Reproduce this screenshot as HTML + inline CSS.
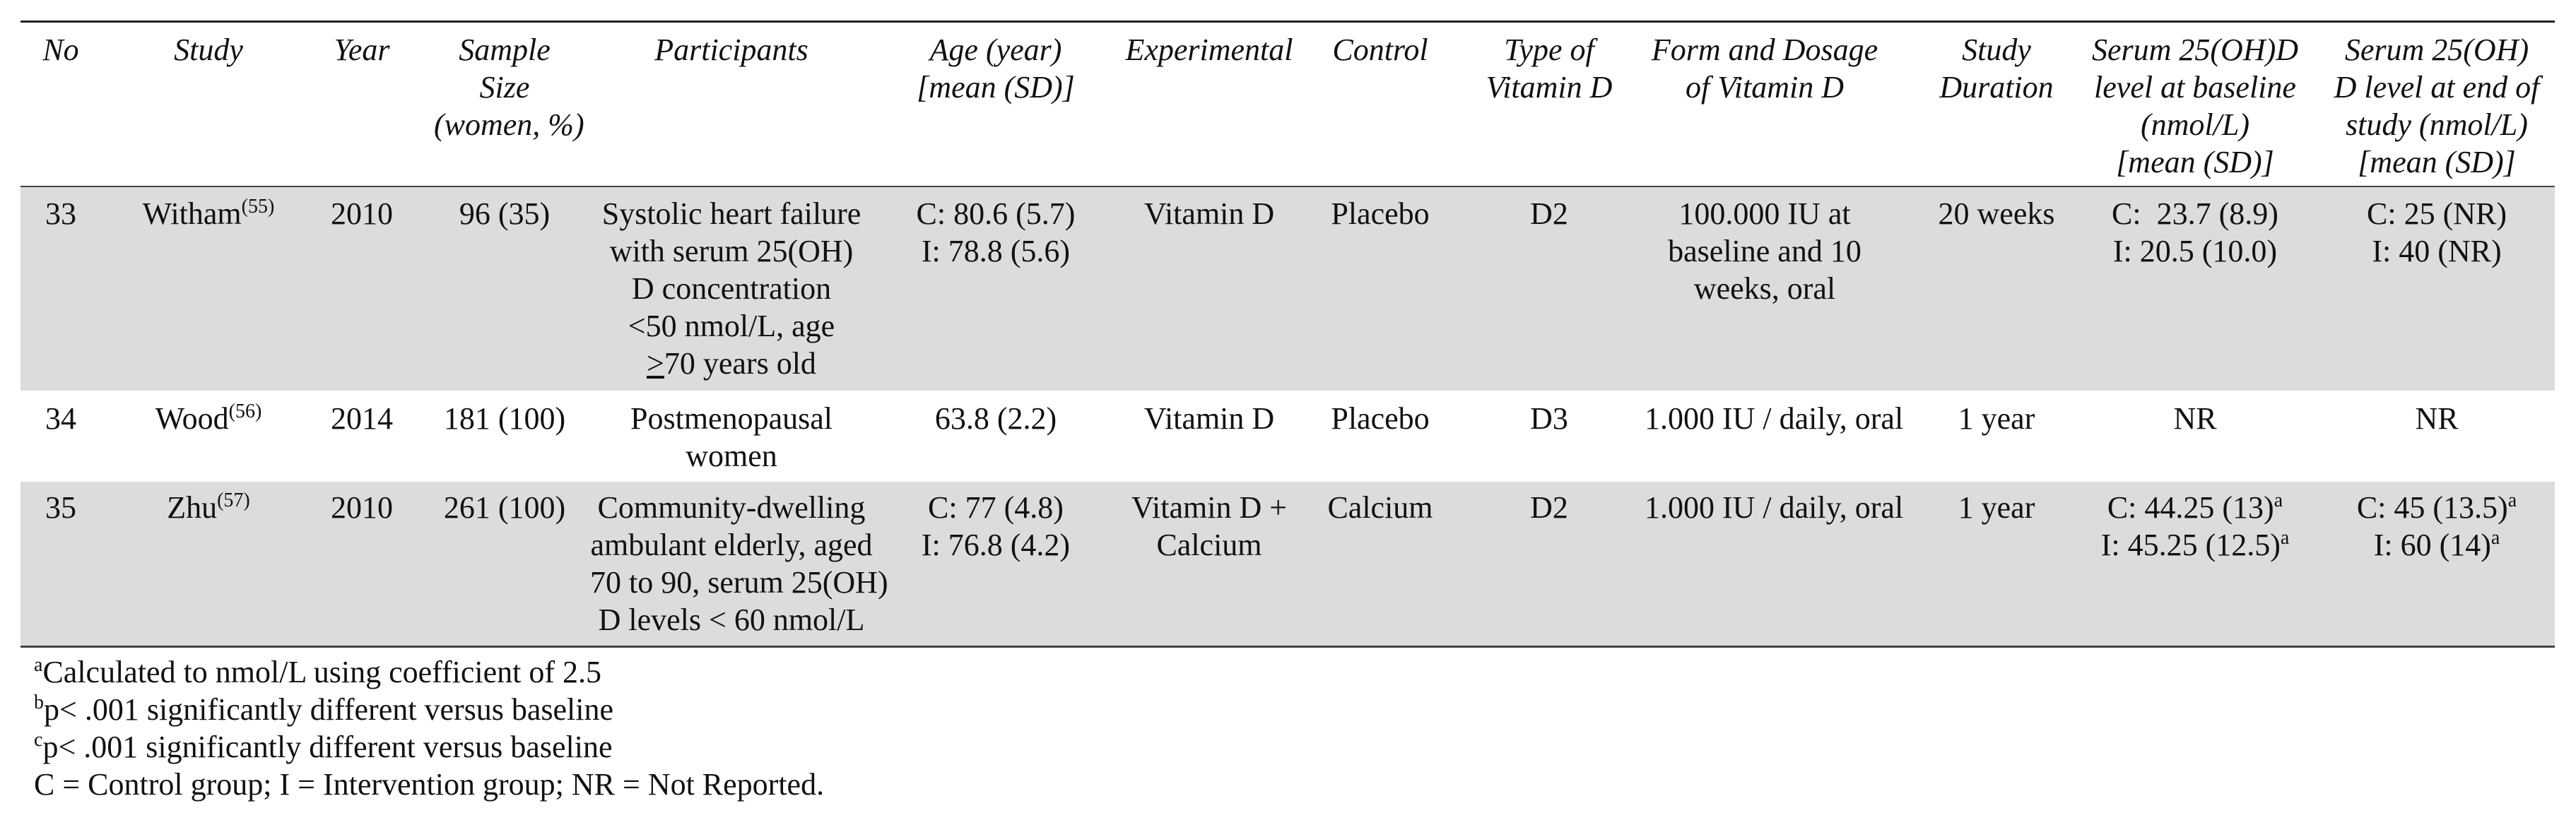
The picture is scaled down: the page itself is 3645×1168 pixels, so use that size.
<!DOCTYPE html>
<html><head><meta charset="utf-8">
<style>
html,body{margin:0;padding:0;background:#fff;}
body{width:3645px;height:1168px;position:relative;overflow:hidden;font-family:"Liberation Serif",serif;font-size:44px;color:#111;}
.c{position:absolute;text-align:center;white-space:nowrap;line-height:53px;}
.h{font-style:italic;}
.g{position:absolute;left:29px;width:3586px;background:#dcdcdc;}
.ln{position:absolute;left:29px;width:3586px;background:#222;}
sup{font-size:28px;line-height:0;vertical-align:16px;}
.f{position:absolute;left:48px;line-height:53px;white-space:nowrap;font-size:44px;}
</style></head><body>
<div class="g" style="top:264px;height:289px"></div>
<div class="g" style="top:682px;height:233px"></div>
<div class="ln" style="top:29px;height:3px"></div>
<div class="ln" style="top:263px;height:2px;background:#444"></div>
<div class="ln" style="top:914px;height:3px;background:#444"></div>

<!-- header -->
<div class="c h" style="left:36px;width:100px;top:44px">No</div>
<div class="c h" style="left:195px;width:200px;top:44px">Study</div>
<div class="c h" style="left:442px;width:140px;top:44px">Year</div>
<div class="c h" style="left:614px;width:200px;top:44px">Sample<br>Size<br>(women, %)</div>
<div class="c h" style="left:835px;width:400px;top:44px">Participants</div>
<div class="c h" style="left:1259px;width:300px;top:44px">Age (year)<br>[mean (SD)]</div>
<div class="c h" style="left:1591px;width:240px;top:44px">Experimental</div>
<div class="c h" style="left:1863px;width:180px;top:44px">Control</div>
<div class="c h" style="left:2092px;width:200px;top:44px">Type of<br>Vitamin D</div>
<div class="c h" style="left:2327px;width:340px;top:44px">Form and Dosage<br>of Vitamin D</div>
<div class="c h" style="left:2715px;width:220px;top:44px">Study<br>Duration</div>
<div class="c h" style="left:2946px;width:320px;top:44px">Serum 25(OH)D<br>level at baseline<br>(nmol/L)<br>[mean (SD)]</div>
<div class="c h" style="left:3288px;width:320px;top:44px">Serum 25(OH)<br>D level at end of<br>study (nmol/L)<br>[mean (SD)]</div>

<!-- row 1 -->
<div class="c" style="left:36px;width:100px;top:276px">33</div>
<div class="c" style="left:195px;width:200px;top:276px">Witham<sup>(55)</sup></div>
<div class="c" style="left:442px;width:140px;top:276px">2010</div>
<div class="c" style="left:614px;width:200px;top:276px">96 (35)</div>
<div class="c" style="left:835px;width:400px;top:276px">Systolic heart failure<br>with serum 25(OH)<br>D concentration<br>&lt;50 nmol/L, age<br><u>&gt;</u>70 years old</div>
<div class="c" style="left:1259px;width:300px;top:276px">C: 80.6 (5.7)<br>I: 78.8 (5.6)</div>
<div class="c" style="left:1591px;width:240px;top:276px">Vitamin D</div>
<div class="c" style="left:1863px;width:180px;top:276px">Placebo</div>
<div class="c" style="left:2092px;width:200px;top:276px">D2</div>
<div class="c" style="left:2327px;width:340px;top:276px">100.000 IU at<br>baseline and 10<br>weeks, oral</div>
<div class="c" style="left:2715px;width:220px;top:276px">20 weeks</div>
<div class="c" style="left:2946px;width:320px;top:276px">C:&nbsp; 23.7 (8.9)<br>I: 20.5 (10.0)</div>
<div class="c" style="left:3288px;width:320px;top:276px">C: 25 (NR)<br>I: 40 (NR)</div>

<!-- row 2 -->
<div class="c" style="left:36px;width:100px;top:566px">34</div>
<div class="c" style="left:195px;width:200px;top:566px">Wood<sup>(56)</sup></div>
<div class="c" style="left:442px;width:140px;top:566px">2014</div>
<div class="c" style="left:614px;width:200px;top:566px">181 (100)</div>
<div class="c" style="left:835px;width:400px;top:566px">Postmenopausal<br>women</div>
<div class="c" style="left:1259px;width:300px;top:566px">63.8 (2.2)</div>
<div class="c" style="left:1591px;width:240px;top:566px">Vitamin D</div>
<div class="c" style="left:1863px;width:180px;top:566px">Placebo</div>
<div class="c" style="left:2092px;width:200px;top:566px">D3</div>
<div class="c" style="left:2327px;width:340px;top:566px">1.000 IU / daily, oral</div>
<div class="c" style="left:2715px;width:220px;top:566px">1 year</div>
<div class="c" style="left:2946px;width:320px;top:566px">NR</div>
<div class="c" style="left:3288px;width:320px;top:566px">NR</div>

<!-- row 3 -->
<div class="c" style="left:36px;width:100px;top:692px">35</div>
<div class="c" style="left:195px;width:200px;top:692px">Zhu<sup>(57)</sup></div>
<div class="c" style="left:442px;width:140px;top:692px">2010</div>
<div class="c" style="left:614px;width:200px;top:692px">261 (100)</div>
<div class="c" style="left:835px;width:400px;top:692px">Community-dwelling<br>ambulant elderly, aged<br>70 to 90, serum 25(OH)<br>D levels &lt; 60 nmol/L</div>
<div class="c" style="left:1259px;width:300px;top:692px">C: 77 (4.8)<br>I: 76.8 (4.2)</div>
<div class="c" style="left:1591px;width:240px;top:692px">Vitamin D +<br>Calcium</div>
<div class="c" style="left:1863px;width:180px;top:692px">Calcium</div>
<div class="c" style="left:2092px;width:200px;top:692px">D2</div>
<div class="c" style="left:2327px;width:340px;top:692px">1.000 IU / daily, oral</div>
<div class="c" style="left:2715px;width:220px;top:692px">1 year</div>
<div class="c" style="left:2946px;width:320px;top:692px">C: 44.25 (13)<sup>a</sup><br>I: 45.25 (12.5)<sup>a</sup></div>
<div class="c" style="left:3288px;width:320px;top:692px">C: 45 (13.5)<sup>a</sup><br>I: 60 (14)<sup>a</sup></div>

<!-- footnotes -->
<div class="f" style="top:925px"><sup>a</sup>Calculated to nmol/L using coefficient of 2.5</div>
<div class="f" style="top:978px"><sup>b</sup>p&lt; .001 significantly different versus baseline</div>
<div class="f" style="top:1031px"><sup>c</sup>p&lt; .001 significantly different versus baseline</div>
<div class="f" style="top:1084px">C = Control group; I = Intervention group; NR = Not Reported.</div>
</body></html>
